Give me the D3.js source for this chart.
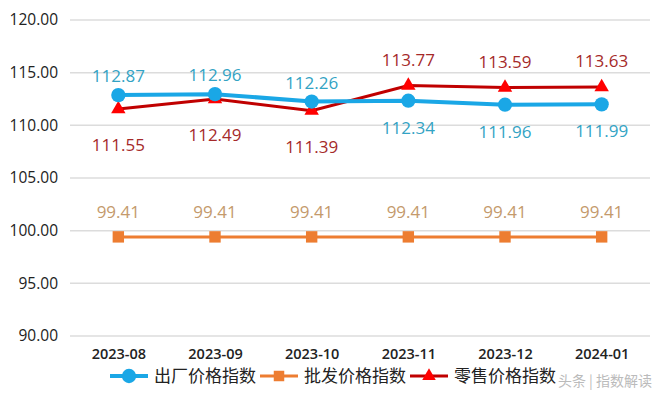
<!DOCTYPE html>
<html>
<head>
<meta charset="utf-8">
<script src="https://cdn.jsdelivr.net/npm/d3@7/dist/d3.min.js"></script>
<style>
  body { margin: 0; background: #fff; }
  text { font-family: "Noto Sans CJK SC", "Open Sans", sans-serif; }
</style>
</head>
<body>
<div id="wrapper"></div>
<script>
const months = ["2023-08", "2023-09", "2023-10", "2023-11", "2023-12", "2024-01"];
const factoryIndex = [112.87, 112.96, 112.26, 112.34, 111.96, 111.99];
const wholesaleIndex = [99.41, 99.41, 99.41, 99.41, 99.41, 99.41];
const retailIndex = [111.55, 112.49, 111.39, 113.77, 113.59, 113.63];
const yTicks = [90, 95, 100, 105, 110, 115, 120];
const seriesNames = ["出厂价格指数", "批发价格指数", "零售价格指数"];

// label above (-1) or below (+1) the point
const factoryLabelSide = [-1, -1, -1, 1, 1, 1];
const retailLabelSide = [1, 1, 1, -1, -1, -1];

const dimensions = {
  width: 660,
  height: 397,
  marginTop: 20,
  marginRight: 10,
  marginBottom: 61,
  marginLeft: 70
};
dimensions.boundedWidth = dimensions.width - dimensions.marginLeft - dimensions.marginRight;
dimensions.boundedHeight = dimensions.height - dimensions.marginTop - dimensions.marginBottom;

const wrapper = d3.select("#wrapper")
  .append("svg")
    .attr("width", dimensions.width)
    .attr("height", dimensions.height);

const bounds = wrapper.append("g")
    .attr("transform", `translate(${dimensions.marginLeft},${dimensions.marginTop})`);

const xScale = d3.scalePoint()
  .domain(months)
  .range([0, dimensions.boundedWidth])
  .padding(0.5);

const yScale = d3.scaleLinear()
  .domain([90, 120])
  .range([dimensions.boundedHeight, 0]);

// grid
bounds.selectAll(".grid")
  .data(yTicks)
  .enter().append("line")
    .attr("x1", 0)
    .attr("x2", dimensions.boundedWidth)
    .attr("y1", d => yScale(d))
    .attr("y2", d => yScale(d))
    .attr("stroke", "#dcdcdc")
    .attr("stroke-width", 1.5);

// axes
const yAxis = bounds.append("g")
  .call(d3.axisLeft(yScale).tickValues(yTicks).tickFormat(d3.format(".2f")).tickSize(0).tickPadding(12));
yAxis.select(".domain").remove();
yAxis.selectAll("text")
  .attr("font-size", 15.5)
  .attr("fill", "#222")
  .style("font-family", "'Open Sans', sans-serif");

const xAxis = bounds.append("g")
  .attr("transform", `translate(0,${dimensions.boundedHeight})`)
  .call(d3.axisBottom(xScale).tickSize(0).tickPadding(13));
xAxis.select(".domain").remove();
xAxis.selectAll("text")
  .attr("font-size", 14.5)
  .attr("fill", "#222")
  .style("font-family", "'Open Sans', sans-serif")
  .style("font-weight", 600);

const line = d3.line()
  .x((d, i) => xScale(months[i]))
  .y(d => yScale(d));

// offsets: [above, below] baseline shift from the point
const series = [
  { values: wholesaleIndex, color: "#ed7d31", width: 3, symbol: d3.symbolSquare, size: 130, labelColor: "#c49a6c", side: wholesaleIndex.map(() => -1), offsets: [-19, 40] },
  { values: retailIndex, color: "#c00000", width: 3, symbol: d3.symbolTriangle, size: 90, markerColor: "#ff0000", labelColor: "#a52a2a", side: retailLabelSide, offsets: [-20, 42] },
  { values: factoryIndex, color: "#1aa7e6", width: 4, symbol: d3.symbolCircle, size: 160, labelColor: "#33a3c4", side: factoryLabelSide, offsets: [-13, 33] }
];

series.forEach(s => {
  bounds.append("path")
    .attr("d", line(s.values))
    .attr("fill", "none")
    .attr("stroke", s.color)
    .attr("stroke-width", s.width);

  bounds.selectAll(null)
    .data(s.values)
    .enter().append("path")
      .attr("d", d3.symbol().type(s.symbol).size(s.size))
      .attr("transform", (d, i) => `translate(${xScale(months[i])},${yScale(d)})`)
      .attr("fill", s.markerColor || s.color);

  bounds.selectAll(null)
    .data(s.values)
    .enter().append("text")
      .attr("x", (d, i) => xScale(months[i]))
      .attr("y", (d, i) => yScale(d) + (s.side[i] < 0 ? s.offsets[0] : s.offsets[1]))
      .attr("text-anchor", "middle")
      .attr("font-size", 17)
      .attr("fill", s.labelColor)
      .style("font-family", "'Open Sans', sans-serif")
      .text(d => d.toFixed(2));
});

// legend
const legendItems = [
  { name: seriesNames[0], color: "#1aa7e6", width: 4, symbol: d3.symbolCircle, size: 160, x: 110 },
  { name: seriesNames[1], color: "#ed7d31", width: 3, symbol: d3.symbolSquare, size: 110, x: 260 },
  { name: seriesNames[2], color: "#c00000", width: 3, symbol: d3.symbolTriangle, size: 80, markerColor: "#ff0000", x: 410 }
];
const legend = wrapper.append("g").attr("transform", "translate(0,376)");
legendItems.forEach(item => {
  const g = legend.append("g").attr("transform", `translate(${item.x},0)`);
  g.append("line")
    .attr("x1", 0).attr("x2", 38)
    .attr("stroke", item.color)
    .attr("stroke-width", item.width);
  g.append("path")
    .attr("d", d3.symbol().type(item.symbol).size(item.size))
    .attr("transform", "translate(19,0)")
    .attr("fill", item.markerColor || item.color);
  g.append("text")
    .attr("x", 44)
    .attr("y", 6)
    .attr("font-size", 17)
    .attr("fill", "#222")
    .text(item.name);
});

// watermark
wrapper.append("text")
  .attr("x", 652)
  .attr("y", 386)
  .attr("text-anchor", "end")
  .attr("font-size", 14)
  .attr("fill", "#bbb")
  .text("头条 | 指数解读");
</script>
</body>
</html>
